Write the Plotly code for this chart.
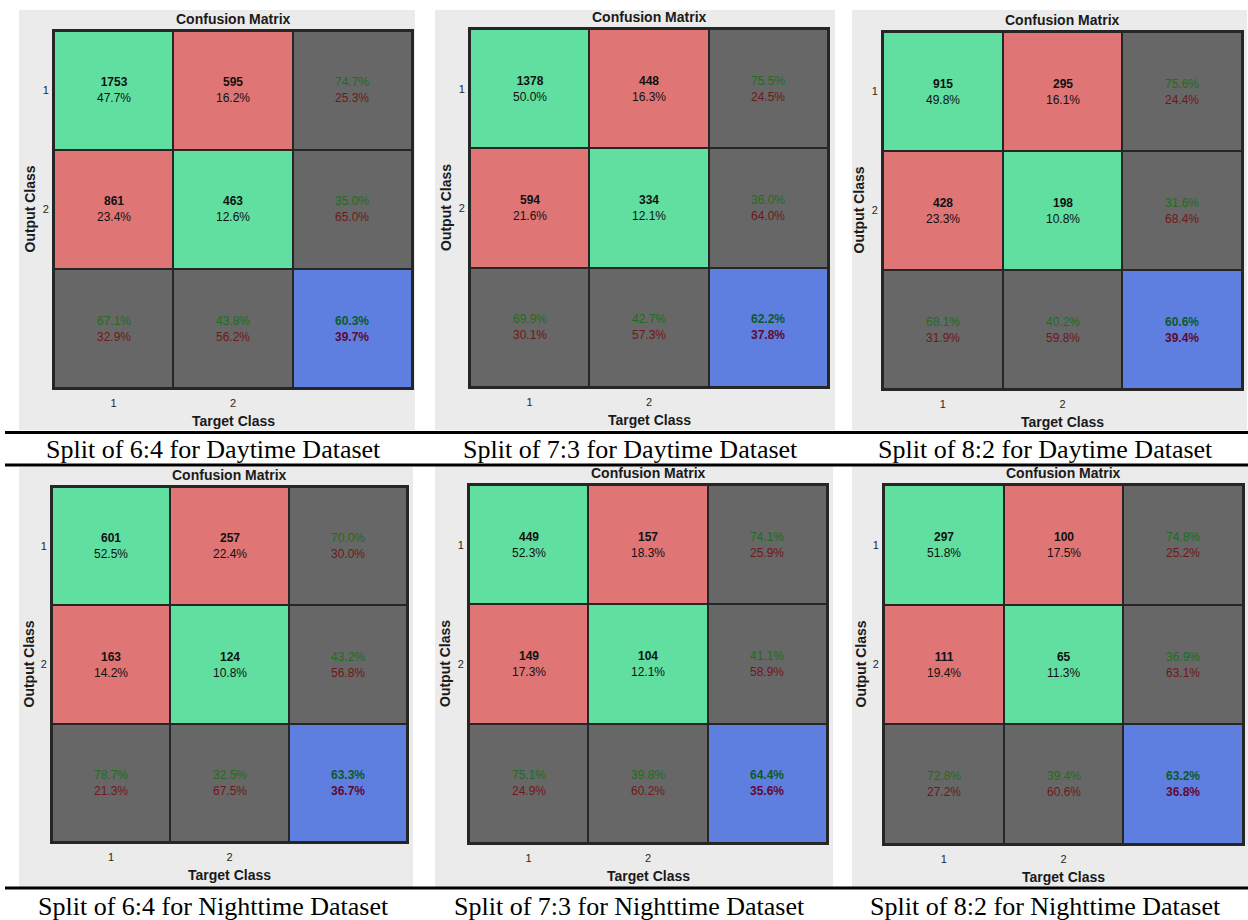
import plotly.graph_objects as go

W, H = 1248, 920

# ---------------- data ----------------
captions = [
    "Split of 6:4 for Daytime Dataset",
    "Split of 7:3 for Daytime Dataset",
    "Split of 8:2 for Daytime Dataset",
    "Split of 6:4 for Nighttime Dataset",
    "Split of 7:3 for Nighttime Dataset",
    "Split of 8:2 for Nighttime Dataset",
]
class_ticks = ["1", "2"]

d64_counts = [[1753, 595], [861, 463]]
d64_share = [[47.7, 16.2], [23.4, 12.6]]
d64_row_ok, d64_row_err = [74.7, 35.0], [25.3, 65.0]
d64_col_ok, d64_col_err = [67.1, 43.8], [32.9, 56.2]
d64_acc = [60.3, 39.7]

d73_counts = [[1378, 448], [594, 334]]
d73_share = [[50.0, 16.3], [21.6, 12.1]]
d73_row_ok, d73_row_err = [75.5, 36.0], [24.5, 64.0]
d73_col_ok, d73_col_err = [69.9, 42.7], [30.1, 57.3]
d73_acc = [62.2, 37.8]

d82_counts = [[915, 295], [428, 198]]
d82_share = [[49.8, 16.1], [23.3, 10.8]]
d82_row_ok, d82_row_err = [75.6, 31.6], [24.4, 68.4]
d82_col_ok, d82_col_err = [68.1, 40.2], [31.9, 59.8]
d82_acc = [60.6, 39.4]

n64_counts = [[601, 257], [163, 124]]
n64_share = [[52.5, 22.4], [14.2, 10.8]]
n64_row_ok, n64_row_err = [70.0, 43.2], [30.0, 56.8]
n64_col_ok, n64_col_err = [78.7, 32.5], [21.3, 67.5]
n64_acc = [63.3, 36.7]

n73_counts = [[449, 157], [149, 104]]
n73_share = [[52.3, 18.3], [17.3, 12.1]]
n73_row_ok, n73_row_err = [74.1, 41.1], [25.9, 58.9]
n73_col_ok, n73_col_err = [75.1, 39.8], [24.9, 60.2]
n73_acc = [64.4, 35.6]

n82_counts = [[297, 100], [111, 65]]
n82_share = [[51.8, 17.5], [19.4, 11.3]]
n82_row_ok, n82_row_err = [74.8, 36.9], [25.2, 63.1]
n82_col_ok, n82_col_err = [72.8, 39.4], [27.2, 60.6]
n82_acc = [63.2, 36.8]

# cell category codes: 0 correct, 1 wrong, 2 summary, 3 overall
cell_kind = [[0, 1, 2], [1, 0, 2], [2, 2, 3]]

panel_data = [
    (d64_counts, d64_share, d64_row_ok, d64_row_err, d64_col_ok, d64_col_err, d64_acc),
    (d73_counts, d73_share, d73_row_ok, d73_row_err, d73_col_ok, d73_col_err, d73_acc),
    (d82_counts, d82_share, d82_row_ok, d82_row_err, d82_col_ok, d82_col_err, d82_acc),
    (n64_counts, n64_share, n64_row_ok, n64_row_err, n64_col_ok, n64_col_err, n64_acc),
    (n73_counts, n73_share, n73_row_ok, n73_row_err, n73_col_ok, n73_col_err, n73_acc),
    (n82_counts, n82_share, n82_row_ok, n82_row_err, n82_col_ok, n82_col_err, n82_acc),
]

# ---------------- layout (pixels) ----------------
bg_boxes = [(19, 10, 415, 430), (435, 10, 835, 430), (852, 10, 1247, 430),
            (19, 467, 413, 887), (435, 466, 833, 887), (852, 466, 1248, 887)]
mat_boxes = [(54, 31, 412, 388), (470, 29, 828, 387), (883, 32, 1242, 389),
             (52, 487, 407, 842), (469, 485, 827, 843), (884, 485, 1243, 844)]
caption_pos = [(213, 449), (630, 449), (1045, 449), (213, 906), (629, 906), (1045, 906)]
rule_y = [432.5, 465, 888]

GREEN = "#60DFA0"
RED = "#E07575"
GRAY = "#676767"
BLUE = "#5F7FE0"
BG = "#EBEBEB"
EDGE = "#262626"
OK_TXT = "#1D6E1D"
ERR_TXT = "#701818"
SANS = "Arial, Liberation Sans, sans-serif"
SERIF = "Times New Roman, Liberation Serif, serif"


def px(x):
    return x / W


def py(y):
    return 1 - y / H


fig = go.Figure()
bg_shapes = []
edge_shapes = []
annotations = []
layout_axes = {}

for i, (data, mat, bg) in enumerate(zip(panel_data, mat_boxes, bg_boxes)):
    counts, share, row_ok, row_err, col_ok, col_err, acc = data
    sfx = "" if i == 0 else str(i + 1)
    xa, ya = "x" + sfx, "y" + sfx

    fig.add_trace(go.Heatmap(
        x=[1, 2, 3], y=[1, 2, 3], z=cell_kind, zmin=0, zmax=3,
        colorscale=[[0, GREEN], [1 / 3, RED], [2 / 3, GRAY], [1, BLUE]],
        showscale=False, xgap=2, ygap=2, hoverinfo="skip",
        xaxis=xa, yaxis=ya,
    ))

    x0, y0, x1, y1 = mat
    layout_axes["xaxis" + sfx] = dict(
        domain=[px(x0), px(x1)], range=[0.5, 3.5], anchor=ya,
        tickvals=[1, 2], ticktext=class_ticks, ticks="",
        tickfont=dict(family=SANS, size=11, color="#262626"),
        showgrid=False, zeroline=False, showline=True, mirror=True,
        linecolor=EDGE, linewidth=2, fixedrange=True, ticklabelstandoff=4,
    )
    layout_axes["yaxis" + sfx] = dict(
        domain=[py(y1), py(y0)], range=[3.5, 0.5], anchor=xa,
        tickvals=[1, 2], ticktext=class_ticks, ticks="",
        tickfont=dict(family=SANS, size=11, color="#262626"),
        showgrid=False, zeroline=False, showline=True, mirror=True,
        linecolor=EDGE, linewidth=2, fixedrange=True, ticklabelstandoff=1,
    )

    # panel background
    bx0, by0, bx1, by1 = bg
    bg_shapes.append(dict(type="rect", xref="paper", yref="paper",
                          x0=px(bx0), x1=px(bx1), y0=py(by1), y1=py(by0),
                          fillcolor=BG, line=dict(width=0), layer="below"))
    # dark backing behind the cells so the heatmap gaps read as cell edges
    edge_shapes.append(dict(type="rect", xref=xa + " domain", yref=ya + " domain",
                            x0=0, x1=1, y0=0, y1=1,
                            fillcolor=EDGE, line=dict(width=0), layer="below"))

    # cell texts
    for r in range(2):
        for c in range(2):
            annotations.append(dict(
                x=c + 1, y=r + 1, xref=xa, yref=ya, showarrow=False,
                text=f"<b>{counts[r][c]}</b><br>{share[r][c]:.1f}%",
                font=dict(family=SANS, size=12, color="#111111"),
            ))
        annotations.append(dict(
            x=3, y=r + 1, xref=xa, yref=ya, showarrow=False,
            text=(f"<span style='color:{OK_TXT}'>{row_ok[r]:.1f}%</span><br>"
                  f"<span style='color:{ERR_TXT}'>{row_err[r]:.1f}%</span>"),
            font=dict(family=SANS, size=12),
        ))
    for c in range(2):
        annotations.append(dict(
            x=c + 1, y=3, xref=xa, yref=ya, showarrow=False,
            text=(f"<span style='color:{OK_TXT}'>{col_ok[c]:.1f}%</span><br>"
                  f"<span style='color:{ERR_TXT}'>{col_err[c]:.1f}%</span>"),
            font=dict(family=SANS, size=12),
        ))
    annotations.append(dict(
        x=3, y=3, xref=xa, yref=ya, showarrow=False,
        text=(f"<b><span style='color:#0B5A2C'>{acc[0]:.1f}%</span><br>"
              f"<span style='color:#5E0A30'>{acc[1]:.1f}%</span></b>"),
        font=dict(family=SANS, size=12),
    ))

    cx = (x0 + x1) / 2
    annotations.append(dict(
        x=px(cx), y=py(y0 - 12), xref="paper", yref="paper", showarrow=False,
        text="<b>Confusion Matrix</b>", font=dict(family=SANS, size=14, color="#1a1a1a"),
        xanchor="center", yanchor="middle",
    ))
    annotations.append(dict(
        x=px(cx), y=py(y1 + 33), xref="paper", yref="paper", showarrow=False,
        text="<b>Target Class</b>", font=dict(family=SANS, size=14, color="#1a1a1a"),
        xanchor="center", yanchor="middle",
    ))
    annotations.append(dict(
        x=px(x0 - 24), y=py((y0 + y1) / 2), xref="paper", yref="paper", showarrow=False,
        text="<b>Output Class</b>", font=dict(family=SANS, size=14, color="#1a1a1a"),
        textangle=-90, xanchor="center", yanchor="middle",
    ))

    # caption
    capx, capy = caption_pos[i]
    annotations.append(dict(
        x=px(capx), y=py(capy), xref="paper", yref="paper", showarrow=False,
        text=captions[i], font=dict(family=SERIF, size=26, color="#000000"),
        xanchor="center", yanchor="middle",
    ))

rule_shapes = []
for ry in rule_y:
    rule_shapes.append(dict(type="line", xref="paper", yref="paper",
                            x0=px(5), x1=1, y0=py(ry), y1=py(ry),
                            line=dict(color="#000000", width=3)))

fig.update_layout(
    width=W, height=H, margin=dict(l=0, r=0, t=0, b=0),
    paper_bgcolor="#FFFFFF", plot_bgcolor=EDGE,
    showlegend=False, shapes=bg_shapes + edge_shapes + rule_shapes,
    annotations=annotations,
    **layout_axes,
)

fig.write_html("out.html", config={"displayModeBar": False},
               post_script="document.body.style.margin='0';document.body.style.overflow='hidden';")
